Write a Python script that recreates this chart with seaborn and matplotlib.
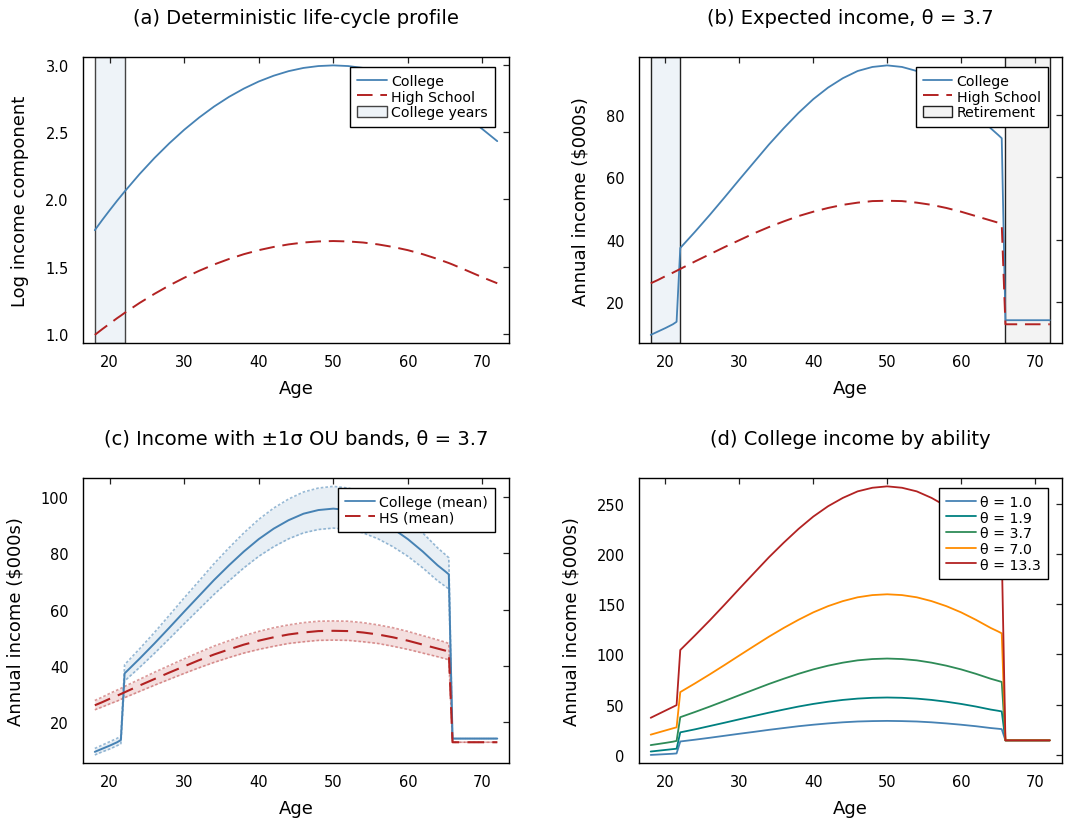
import matplotlib
matplotlib.use("Agg")
import matplotlib.pyplot as plt
from matplotlib.lines import Line2D
from matplotlib.patches import Patch
import seaborn as sns

# ---------------------------------------------------------------- data
ages = [18, 19, 20, 21, 21.5, 22, 24, 26, 28, 30, 32, 34, 36, 38, 40, 42, 44,
        46, 48, 50, 52, 54, 56, 58, 60, 62, 64, 65, 65.5, 66, 68, 70, 72]

# (a) deterministic log-income component
log_college = [1.771, 1.847, 1.920, 1.991, 2.025, 2.059, 2.189, 2.309, 2.419,
               2.520, 2.611, 2.693, 2.765, 2.827, 2.880, 2.923, 2.957, 2.981,
               2.995, 3.000, 2.995, 2.981, 2.957, 2.923, 2.880, 2.827, 2.765,
               2.730, 2.712, 2.693, 2.613, 2.525, 2.435]
log_hs = [0.990, 1.033, 1.074, 1.115, 1.134, 1.154, 1.228, 1.296, 1.359, 1.416,
          1.468, 1.515, 1.556, 1.592, 1.622, 1.646, 1.665, 1.679, 1.687, 1.690,
          1.687, 1.679, 1.665, 1.646, 1.622, 1.592, 1.556, 1.536, 1.526, 1.515,
          1.468, 1.420, 1.375]

# (b) expected annual income, theta = 3.7 ($000s)
college_mean = [9.6, 10.7, 11.8, 13.0, 13.8, 37.4, 42.6, 48.0, 53.6, 59.3, 64.9,
                70.5, 75.7, 80.6, 85.0, 88.7, 91.7, 94.0, 95.3, 95.8, 95.3, 94.0,
                91.7, 88.7, 85.0, 80.6, 75.7, 73.6, 72.5, 14.3, 14.3, 14.3, 14.3]
hs_mean = [26.1, 27.2, 28.4, 29.5, 30.1, 30.7, 33.1, 35.4, 37.7, 39.9, 42.1,
           44.1, 45.9, 47.6, 49.0, 50.2, 51.2, 51.9, 52.4, 52.5, 52.4, 51.9,
           51.2, 50.2, 49.0, 47.6, 46.2, 45.5, 45.0, 13.0, 13.0, 13.0, 13.0]

# (c) +/- 1 sigma OU bands
college_hi = [10.8, 12.0, 13.2, 14.4, 15.2, 40.5, 46.1, 51.9, 58.0, 64.2, 70.2,
              76.3, 81.9, 87.2, 92.0, 96.0, 99.2, 101.7, 103.1, 103.7, 103.1,
              101.7, 99.2, 96.0, 92.0, 87.2, 81.9, 79.6, 78.4, 14.3, 14.3, 14.3,
              14.3]
college_lo = [8.5, 9.6, 10.6, 11.8, 12.5, 34.7, 39.5, 44.5, 49.7, 55.0, 60.2,
              65.4, 70.2, 74.8, 78.9, 82.3, 85.1, 87.2, 88.4, 88.9, 88.4, 87.2,
              85.1, 82.3, 78.9, 74.8, 70.2, 68.3, 67.3, 14.3, 14.3, 14.3, 14.3]
hs_hi = [27.8, 29.0, 30.3, 31.5, 32.1, 32.8, 35.3, 37.8, 40.2, 42.6, 44.9, 47.1,
         49.0, 50.8, 52.3, 53.6, 54.6, 55.4, 55.9, 56.0, 55.9, 55.4, 54.6, 53.6,
         52.3, 50.8, 49.3, 48.5, 48.0, 13.0, 13.0, 13.0, 13.0]
hs_lo = [24.5, 25.5, 26.6, 27.6, 28.2, 28.8, 31.0, 33.2, 35.3, 37.4, 39.4, 41.3,
         43.0, 44.6, 45.9, 47.0, 48.0, 48.6, 49.1, 49.2, 49.1, 48.6, 48.0, 47.0,
         45.9, 44.6, 43.3, 42.6, 42.2, 13.0, 13.0, 13.0, 13.0]

# (d) college income by ability theta
theta_labels = ["θ = 1.0", "θ = 1.9", "θ = 3.7", "θ = 7.0", "θ = 13.3"]
inc_theta_1_0 = [-0.2, 0.2, 0.6, 1.0, 1.3, 13.2, 15.0, 16.9, 18.9, 20.9, 22.8,
                 24.8, 26.6, 28.4, 29.9, 31.2, 32.3, 33.1, 33.5, 33.7, 33.5, 33.1,
                 32.3, 31.2, 29.9, 28.4, 26.6, 25.9, 25.5, 14.3, 14.3, 14.3, 14.3]
inc_theta_1_9 = [3.2, 4.0, 4.8, 5.6, 6.0, 22.3, 25.3, 28.6, 31.9, 35.3, 38.6,
                 41.9, 45.0, 48.0, 50.6, 52.8, 54.6, 55.9, 56.7, 57.0, 56.7, 55.9,
                 54.6, 52.8, 50.6, 48.0, 45.0, 43.8, 43.1, 14.3, 14.3, 14.3, 14.3]
inc_theta_3_7 = college_mean
inc_theta_7_0 = [20.0, 22.1, 24.2, 26.3, 27.3, 62.4, 71.1, 80.1, 89.4, 98.9,
                 108.3, 117.6, 126.3, 134.4, 141.8, 148.0, 153.0, 156.8, 159.0,
                 159.8, 159.0, 156.8, 153.0, 148.0, 141.8, 134.4, 126.3, 122.8,
                 120.9, 14.3, 14.3, 14.3, 14.3]
inc_theta_13_3 = [36.8, 40.4, 44.0, 47.6, 49.4, 104.3, 118.9, 133.9, 149.5,
                  165.4, 181.1, 196.7, 211.2, 224.9, 237.2, 247.5, 255.8, 262.3,
                  265.9, 267.3, 265.9, 262.3, 255.8, 247.5, 237.2, 224.9, 211.2,
                  205.3, 202.3, 14.3, 14.3, 14.3, 14.3]

college_years = (18, 22)
retirement = (66, 72)

# ---------------------------------------------------------------- style
sns.set_theme(style="white")
plt.rcParams["font.family"] = ["DejaVu Sans"]
plt.rcParams["text.color"] = "black"
plt.rcParams["axes.labelcolor"] = "black"
plt.rcParams["axes.titlecolor"] = "black"

BLUE = "#4682B4"
RED = "#B22222"
THETA_COLORS = ["#4682B4", "#008080", "#2E8B57", "#FF8C00", "#B22222"]
DASH = (0, (8, 4))
DOT = (0, (1.6, 1.2))
SPAN_BLUE = "#EEF3F8"
SPAN_GRAY = "#F3F3F3"

fig = plt.figure(figsize=(10.66, 8.2), dpi=100)
ax_a = fig.add_axes([0.0776, 0.5805, 0.4002, 0.3484])
ax_b = fig.add_axes([0.5992, 0.5805, 0.3968, 0.3484])
ax_c = fig.add_axes([0.0776, 0.0683, 0.4002, 0.3472])
ax_d = fig.add_axes([0.5992, 0.0683, 0.3968, 0.3472])


def frame(ax, title, ylabel, series):
    ax.set_title(title, fontsize=14, pad=25, color="black")
    ax.set_xlabel("Age", fontsize=13, labelpad=7, color="black")
    ax.set_ylabel(ylabel, fontsize=13, labelpad=12, color="black")
    for s in ax.spines.values():
        s.set_color("black")
        s.set_linewidth(1.0)
    ax.tick_params(direction="in", top=True, right=True, length=4, width=0.9,
                   color="#222222", labelsize=10.5, labelcolor="black")
    ax.tick_params(axis="x", pad=8)
    ax.tick_params(axis="y", pad=10)
    x0, x1 = min(ages), max(ages)
    dx = 0.03 * (x1 - x0)
    ax.set_xlim(x0 - dx, x1 + dx)
    lo = min(min(s) for s in series)
    hi = max(max(s) for s in series)
    dy = 0.03 * (hi - lo)
    ax.set_ylim(lo - dy, hi + dy)
    ax.set_xticks([20, 30, 40, 50, 60, 70])
    ax.grid(False)


def add_legend(ax, handles, labels):
    leg = ax.legend(handles, labels, loc="upper right",
                    bbox_to_anchor=(0.967, 0.966), borderaxespad=0,
                    fontsize=10.2, frameon=True, fancybox=False, framealpha=1,
                    edgecolor="black", handlelength=2.1, handletextpad=0.3,
                    labelspacing=0.12, borderpad=0.5, handleheight=0.9)
    leg.get_frame().set_linewidth(1.0)
    for t in leg.get_texts():
        t.set_color("black")
    leg.set_zorder(10)


college_line = Line2D([], [], color=BLUE, lw=1.3)
hs_line = Line2D([], [], color=RED, lw=1.4, ls=DASH)

# (a) deterministic life-cycle profile
ax = ax_a
ax.axvspan(*college_years, facecolor=SPAN_BLUE, edgecolor="#444444", lw=1.0,
           zorder=0)
sns.lineplot(x=ages, y=log_college, ax=ax, color=BLUE, lw=1.3)
sns.lineplot(x=ages, y=log_hs, ax=ax, color=RED, lw=1.4, linestyle=DASH)
frame(ax, "(a) Deterministic life-cycle profile", "Log income component",
      [log_college, log_hs])
ax.set_yticks([1.0, 1.5, 2.0, 2.5, 3.0])
add_legend(ax, [college_line, hs_line,
                Patch(facecolor=SPAN_BLUE, edgecolor="#444444", lw=1.0)],
           ["College", "High School", "College years"])

# (b) expected income
ax = ax_b
ax.axvspan(*college_years, facecolor=SPAN_BLUE, edgecolor="#222222", lw=1.0,
           zorder=0)
ax.axvspan(*retirement, facecolor=SPAN_GRAY, edgecolor="#222222", lw=1.0,
           zorder=0)
sns.lineplot(x=ages, y=college_mean, ax=ax, color=BLUE, lw=1.3)
sns.lineplot(x=ages, y=hs_mean, ax=ax, color=RED, lw=1.4, linestyle=DASH)
frame(ax, "(b) Expected income, θ = 3.7", "Annual income (\\$000s)",
      [college_mean, hs_mean])
ax.set_yticks([20, 40, 60, 80])
add_legend(ax, [college_line, hs_line,
                Patch(facecolor=SPAN_GRAY, edgecolor="#222222", lw=1.0)],
           ["College", "High School", "Retirement"])

# (c) mean income with OU bands
ax = ax_c
ax.fill_between(ages, college_lo, college_hi, color=BLUE, alpha=0.12, lw=0)
ax.fill_between(ages, hs_lo, hs_hi, color=RED, alpha=0.14, lw=0)
for band in (college_hi, college_lo):
    sns.lineplot(x=ages, y=band, ax=ax, color=BLUE, alpha=0.55, lw=1.2,
                 linestyle=DOT)
for band in (hs_hi, hs_lo):
    sns.lineplot(x=ages, y=band, ax=ax, color=RED, alpha=0.45, lw=1.2,
                 linestyle=DOT)
sns.lineplot(x=ages, y=college_mean, ax=ax, color=BLUE, lw=1.4)
sns.lineplot(x=ages, y=hs_mean, ax=ax, color=RED, lw=1.5, linestyle=DASH)
frame(ax, "(c) Income with ±1σ OU bands, θ = 3.7", "Annual income (\\$000s)",
      [college_lo, college_hi, hs_lo, hs_hi])
ax.set_yticks([20, 40, 60, 80, 100])
add_legend(ax, [college_line, hs_line], ["College (mean)", "HS (mean)"])

# (d) college income by ability
ax = ax_d
theta_series = [inc_theta_1_0, inc_theta_1_9, inc_theta_3_7, inc_theta_7_0,
                inc_theta_13_3]
for values, color in zip(theta_series, THETA_COLORS):
    sns.lineplot(x=ages, y=values, ax=ax, color=color, lw=1.3)
frame(ax, "(d) College income by ability", "Annual income (\\$000s)",
      theta_series)
ax.set_yticks([0, 50, 100, 150, 200, 250])
add_legend(ax, [Line2D([], [], color=c, lw=1.3) for c in THETA_COLORS],
           theta_labels)

fig.savefig("out.png", dpi=100, facecolor="white")
